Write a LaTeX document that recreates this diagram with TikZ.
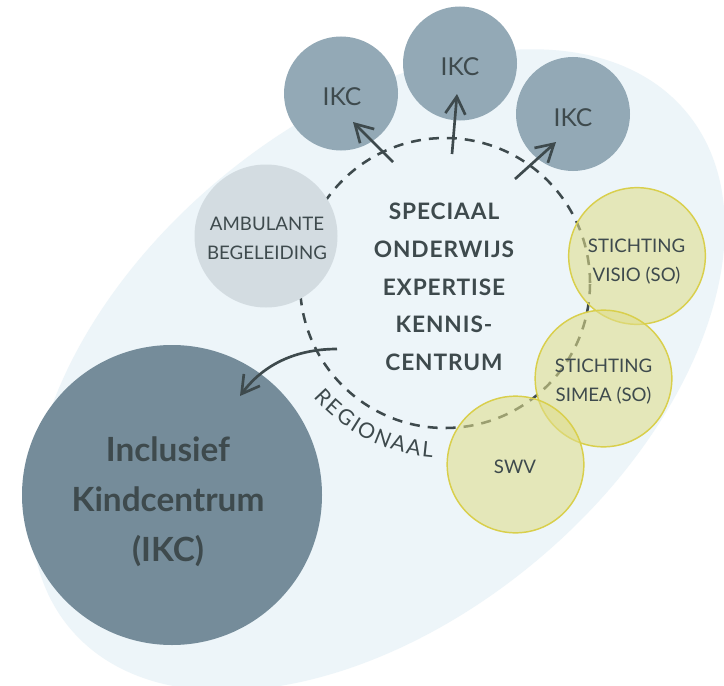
\documentclass[tikz,border=0pt]{standalone}
\usepackage{fontspec}
\setmainfont{Lato}
\usetikzlibrary{arrows.meta,calc}
\definecolor{blobc}{HTML}{EDF5F9}
\definecolor{bigc}{HTML}{758C9A}
\definecolor{ikcc}{HTML}{93A9B6}
\definecolor{ambc}{HTML}{D3DCE1}
\definecolor{yelf}{HTML}{DFDD8B}
\definecolor{yels}{HTML}{D9CF4C}
\definecolor{ink}{HTML}{3E4A4D}
\begin{document}
\begin{tikzpicture}[x=0.75pt,y=-0.75pt,
  disc/.style={circle, inner sep=0pt, draw=none},
  ikc/.style={disc, fill=ikcc, minimum size=85.5pt},
  yel/.style={disc, fill=yelf, fill opacity=0.58, draw=yels, draw opacity=1, line width=1.1pt, minimum size=102.5pt},
  txt/.style={text=ink, align=center, inner sep=0pt},
  arr/.style={draw=ink, line width=2pt, -{Straight Barb[length=13pt,width=15pt]}},
  ringstyle/.style={circle, inner sep=0pt, draw=ink, line width=1.9pt, dash pattern=on 7.5pt off 6pt, minimum size=217.5pt},
]
\useasboundingbox (0,0) rectangle (724,685);
\clip (0,0) rectangle (724,685);
\fill[white] (0,0) rectangle (724,685);
\fill[blobc, rotate around={40:(378,370)}] (378,370) ellipse [x radius=402, y radius=248];

\node[ringstyle] (ring) at (445,283) {};
\node[disc, fill=ambc, minimum size=107.25pt] (amb) at (266,236) {};
\node[ikc] (ikc1) at (341,93.5) {};
\node[ikc] (ikc2) at (460,63.5) {};
\node[ikc] (ikc3) at (573,114) {};

\draw[arr] ($(ring.center)+(-52,-121)$) -- ($(ikc1.center)+(12,28.5)$);
\draw[arr] ($(ring.center)+(7,-129)$) -- ($(ikc2.center)+(-3,30.5)$);
\draw[arr] ($(ring.center)+(70,-104)$) -- ($(ikc3.center)+(-17,28)$);

\node[disc, fill=bigc, minimum size=225pt] (big) at (172,495) {};
\draw[arr] ($(ring.center)+(-108,66)$) .. controls ($(ring.center)+(-155,66)$) and ($(big.center)+(88,-126)$) .. ($(big.center)+(68,-99)$);

\node[yel] (visio) at (637,256) {};
\node[yel] (simea) at (603.5,378.5) {};
\node[yel] (swv) at (515.5,464.5) {};

\node[txt, font=\fontsize{18.5}{22}\selectfont] (t1) at (342,97) {IKC};
\node[txt, font=\fontsize{18.5}{22}\selectfont] (t2) at (460,67) {IKC};
\node[txt, font=\fontsize{18.5}{22}\selectfont] (t3) at (573,118) {IKC};
\node[txt, font=\fontsize{14}{21.75}\selectfont] (tamb) at (267,238) {AMBULANTE\\BEGELEIDING};
\node[txt, font=\bfseries\fontsize{17}{28.35}\selectfont\addfontfeatures{LetterSpace=4}] (tcenter) at (444,287) {SPECIAAL\\ONDERWIJS\\EXPERTISE\\KENNIS-\\CENTRUM};
\node[txt, font=\bfseries\fontsize{25}{37.5}\selectfont] (tbig) at (168,502) {Inclusief\\Kindcentrum\\(IKC)};
\node[txt, font=\fontsize{14}{21.75}\selectfont] (tvisio) at (636.5,261.5) {STICHTING\\VISIO (SO)};
\node[txt, font=\fontsize{14}{21.75}\selectfont] (tsimea) at (603.5,381.7) {STICHTING\\SIMEA (SO)};
\node[txt, font=\fontsize{14}{21.75}\selectfont] (tswv) at (515,467) {SWV};

\foreach \ch/\ang [count=\i] in {R/136.7, E/131.9, G/126.4, I/122.2, O/117.9, N/111.8, A/106.1, A/100.7, L/95.9}
  \node[txt, font=\fontsize{16}{19}\selectfont, rotate=90-\ang] (reg\i) at ($(ring.center)+(\ang:167)$) {\ch};
\end{tikzpicture}
\end{document}
